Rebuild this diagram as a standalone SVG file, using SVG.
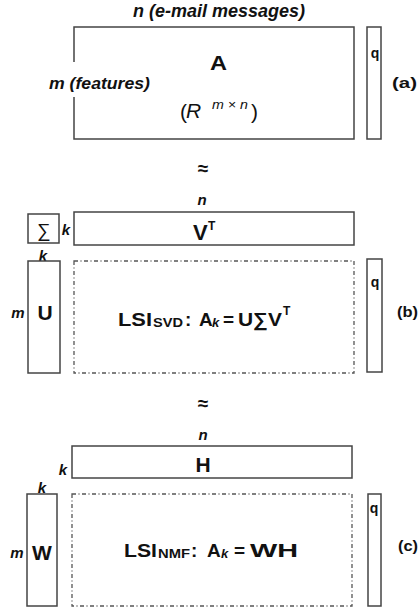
<svg xmlns="http://www.w3.org/2000/svg" width="418" height="610" viewBox="0 0 418 610">
<style>
  .box { fill: none; stroke: #444; stroke-width: 1.5; }
  .dash { fill: none; stroke: #555; stroke-width: 1.3; stroke-dasharray: 4 2.5 1 2.5; }
  text { font-family: "Liberation Sans", Arial, sans-serif; fill: #111; }
  .bi { font-weight: bold; font-style: italic; }
  .b { font-weight: bold; }
  .c { text-anchor: middle; }
</style>
<rect width="418" height="610" fill="#fff"/>

<!-- (a) -->
<g id="label-n-top"><text class="bi" x="133" y="17" font-size="18" textLength="172" lengthAdjust="spacingAndGlyphs">n (e-mail messages)</text></g>
<g id="matrix-A">
  <path class="box" d="M74,62 V27 H354 V139 H74 V97"/>
  <text class="b" x="210" y="70" font-size="20" textLength="17" lengthAdjust="spacingAndGlyphs">A</text>
  <text x="180" y="119" font-size="21">(</text>
  <text x="186" y="118" font-size="21" font-style="italic">R</text>
  <text x="212" y="109" font-size="13" font-style="italic" textLength="36" lengthAdjust="spacingAndGlyphs">m × n</text>
  <text x="251" y="119" font-size="21">)</text>
</g>
<g id="label-m-features"><text class="bi" x="49" y="89" font-size="17" textLength="101" lengthAdjust="spacingAndGlyphs">m (features)</text></g>
<g id="query-a">
  <rect class="box" x="367" y="27" width="14" height="112"/>
  <text class="b c" x="375" y="58" font-size="14">q</text>
</g>
<g id="label-a"><text class="b" x="392" y="88" font-size="15" textLength="25" lengthAdjust="spacingAndGlyphs">(a)</text></g>

<!-- (b) -->
<g id="approx-1"><text class="b c" x="203" y="175" font-size="19">≈</text></g>
<g id="label-n-b"><text class="bi c" x="202" y="205" font-size="15">n</text></g>
<g id="matrix-VT">
  <rect class="box" x="74" y="212" width="280" height="33"/>
  <text class="b" x="193" y="240" font-size="22">V</text>
  <text class="b" x="208" y="230" font-size="12">T</text>
</g>
<g id="matrix-Sigma">
  <rect class="box" x="28" y="214" width="31" height="29"/>
  <text class="c" x="44" y="237" font-size="19">∑</text>
  <text class="bi c" x="66" y="235" font-size="15">k</text>
  <text class="bi c" x="43" y="261" font-size="15">k</text>
</g>
<g id="matrix-U">
  <rect class="box" x="28" y="261" width="32" height="112"/>
  <text class="bi c" x="18" y="318" font-size="15">m</text>
  <text class="b c" x="45" y="320" font-size="21">U</text>
</g>
<g id="approx-svd">
  <rect class="dash" x="74" y="261" width="280" height="112"/>
  <text class="b" x="118" y="326" font-size="19" textLength="34" lengthAdjust="spacingAndGlyphs">LSI</text>
  <text class="b" x="153" y="327" font-size="13" textLength="30" lengthAdjust="spacingAndGlyphs">SVD</text>
  <text class="b" x="185" y="326" font-size="19">:</text>
  <text class="b" x="199" y="326" font-size="19">A</text>
  <text class="bi" x="212" y="327" font-size="13">k</text>
  <text class="b" x="223" y="326" font-size="19">=</text>
  <text class="b" x="238" y="326" font-size="19" textLength="44" lengthAdjust="spacingAndGlyphs">U∑V</text>
  <text class="b" x="283" y="315" font-size="12">T</text>
</g>
<g id="query-b">
  <rect class="box" x="367" y="259" width="15" height="113"/>
  <text class="b c" x="375" y="287" font-size="14">q</text>
</g>
<g id="label-b"><text class="b" x="397" y="317" font-size="15" textLength="21" lengthAdjust="spacingAndGlyphs">(b)</text></g>

<!-- (c) -->
<g id="approx-2"><text class="b c" x="203" y="410" font-size="19">≈</text></g>
<g id="label-n-c"><text class="bi c" x="203" y="440" font-size="15">n</text></g>
<g id="matrix-H">
  <rect class="box" x="72" y="446" width="280" height="32"/>
  <text class="bi c" x="63" y="475" font-size="15">k</text>
  <text class="b c" x="203" y="472" font-size="21">H</text>
</g>
<g id="matrix-W">
  <rect class="box" x="27" y="494" width="30" height="112"/>
  <text class="bi c" x="42" y="493" font-size="15">k</text>
  <text class="bi c" x="17" y="558" font-size="15">m</text>
  <text class="b c" x="42" y="560" font-size="21">W</text>
</g>
<g id="approx-nmf">
  <rect class="dash" x="72" y="494" width="280" height="112"/>
  <text class="b" x="124" y="557" font-size="19" textLength="33" lengthAdjust="spacingAndGlyphs">LSI</text>
  <text class="b" x="158" y="558" font-size="13" textLength="32" lengthAdjust="spacingAndGlyphs">NMF</text>
  <text class="b" x="191" y="557" font-size="19">:</text>
  <text class="b" x="207" y="557" font-size="19">A</text>
  <text class="bi" x="221" y="558" font-size="13">k</text>
  <text class="b" x="234" y="557" font-size="19">=</text>
  <text class="b" x="250" y="557" font-size="19" textLength="48" lengthAdjust="spacingAndGlyphs">WH</text>
</g>
<g id="query-c">
  <rect class="box" x="368" y="494" width="13" height="112"/>
  <text class="b c" x="374" y="513" font-size="14">q</text>
</g>
<g id="label-c"><text class="b" x="398" y="551" font-size="15" textLength="20" lengthAdjust="spacingAndGlyphs">(c)</text></g>
</svg>
